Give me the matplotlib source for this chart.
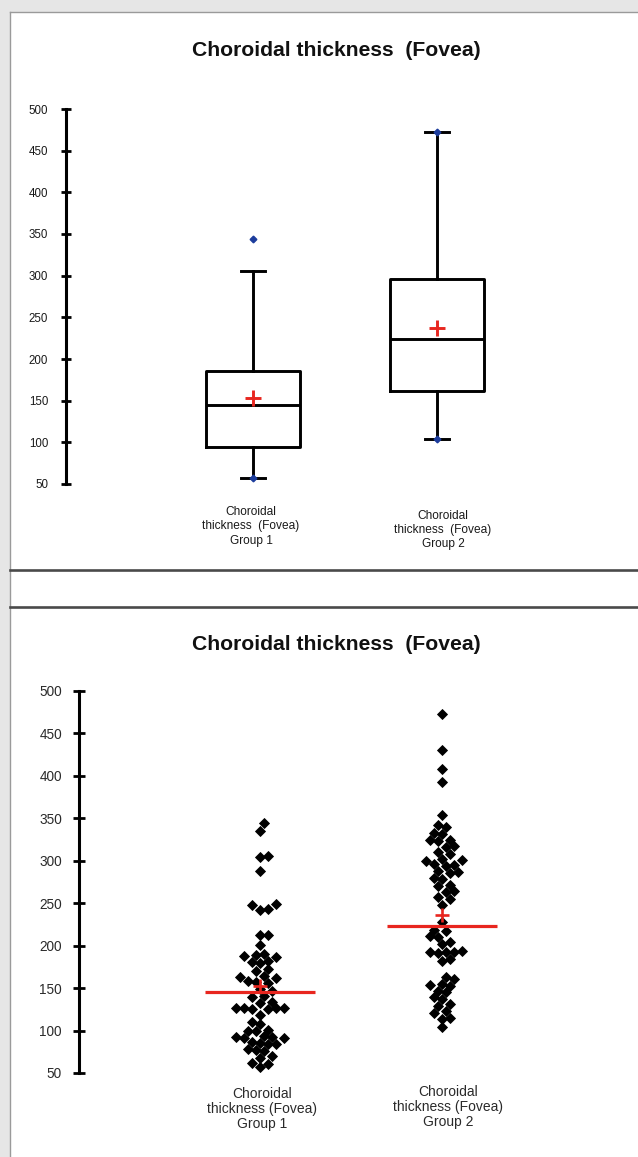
import matplotlib
matplotlib.use('Agg')
import matplotlib.pyplot as plt
import numpy as np
from matplotlib.patches import Rectangle
from matplotlib.lines import Line2D

plt.rcParams['font.family'] = ['Liberation Sans', 'DejaVu Sans']

W, H = 638, 1157

# ---------------- data ----------------
title = 'Choroidal thickness  (Fovea)'
box_labels = ['Choroidal\nthickness  (Fovea)\nGroup 1',
              'Choroidal\nthickness  (Fovea)\nGroup 2']
dot_labels = ['Choroidal\nthickness (Fovea)\nGroup 1',
              'Choroidal\nthickness (Fovea)\nGroup 2']
y_ticks = [50, 100, 150, 200, 250, 300, 350, 400, 450, 500]

box_q1 = [94, 161]
box_median = [145, 224]
box_q3 = [186, 296]
box_whislo = [57, 104]
box_whishi = [306, 472]
box_mean = [153, 237]
box_min = [57, 104]
box_max = [344, 472]

dot_median = [145, 223]
dot_mean = [152, 236]

group1 = [344, 335, 306, 305, 288, 249, 248, 243, 242, 213, 212, 201,
          190, 189, 188, 187, 182, 181, 180, 172, 170, 164, 163, 162,
          158, 157, 156, 149, 147, 141, 140, 134, 133,
          127, 127, 126, 126, 125, 125, 118, 110, 108, 101, 100, 100,
          93, 92, 92, 91, 91, 86, 85, 84, 84, 78, 77, 76, 70, 68, 62, 61, 57]
group2 = [473, 430, 408, 393, 354, 342, 340, 333, 332, 325, 324, 323,
          317, 316, 310, 308, 302, 301, 300, 296, 295, 294, 288, 287, 286,
          280, 279, 272, 270, 264, 263, 257, 255, 248, 228, 219, 217,
          211, 210, 204, 202, 194, 193, 192, 192, 191, 184, 182,
          163, 161, 155, 154, 153, 147, 145, 139, 137, 131, 129,
          123, 121, 115, 114, 104]

# ---------------- helpers ----------------
def fx(px):
    return px / W

def fy(py):
    return 1 - py / H

RED = '#e8261f'
BLUE = '#1c3c9c'

fig = plt.figure(figsize=(W / 100, H / 100), dpi=100)
fig.patch.set_facecolor('#e6e6e6')

# page background and frame lines
fig.add_artist(Rectangle((fx(10), 0), 1 - fx(10), fy(12), transform=fig.transFigure,
                         facecolor='white', edgecolor='none', zorder=0))
fig.add_artist(Line2D([fx(10), fx(10)], [0, fy(12)], transform=fig.transFigure,
                      color='#9a9a9a', lw=1.0))
fig.add_artist(Line2D([fx(10), 1], [fy(12), fy(12)], transform=fig.transFigure,
                      color='#9a9a9a', lw=1.0))
for yy in (570, 607):
    fig.add_artist(Line2D([fx(10), 1], [fy(yy), fy(yy)], transform=fig.transFigure,
                          color='#4a4a4a', lw=1.9))

# ---------------- top: box plot ----------------
ax1 = fig.add_axes([fx(66), fy(484), fx(600 - 66), (484 - 109) / H])
ax1.patch.set_alpha(0)
upx1 = 184.0
ax1.set_xlim(1 - (253 - 66) / upx1, 2 + (600 - 437) / upx1)
ax1.set_ylim(50, 500)

stats = []
for i in range(2):
    stats.append(dict(q1=box_q1[i], med=box_median[i], q3=box_q3[i],
                      whislo=box_whislo[i], whishi=box_whishi[i],
                      mean=box_mean[i], fliers=[box_min[i], box_max[i]]))
ax1.bxp(stats, positions=[1, 2], widths=94 / upx1, capwidths=24 / upx1,
        showmeans=True, showfliers=True,
        boxprops=dict(color='black', lw=2.1),
        whiskerprops=dict(color='black', lw=2.1),
        capprops=dict(color='black', lw=2.1),
        medianprops=dict(color='black', lw=2.1),
        meanprops=dict(marker='+', markersize=12, markeredgewidth=2.1,
                       markeredgecolor=RED, markerfacecolor=RED),
        flierprops=dict(marker='D', markersize=3.4, markerfacecolor=BLUE,
                        markeredgecolor=BLUE))

for s in ('top', 'right', 'bottom'):
    ax1.spines[s].set_visible(False)
ax1.spines['left'].set_linewidth(2.2)
ax1.set_yticks(y_ticks)
ax1.tick_params(axis='y', direction='inout', length=7.5, width=2.0,
                pad=9.0, labelsize=8.3, labelcolor='#1a1a1a')
ax1.set_xticks([])
for i, (dx, ypx) in enumerate([(-2, 506), (6, 510)]):
    ax1.text(i + 1 + dx / upx1, fy(ypx), box_labels[i],
             transform=matplotlib.transforms.blended_transform_factory(ax1.transData, fig.transFigure),
             ha='center', va='top', fontsize=8.6, linespacing=1.25, color='#1a1a1a')

fig.text(fx(336), fy(50), title, ha='center', va='center',
         fontsize=15.2, fontweight='bold', color='#111111')

# ---------------- bottom: dot plot ----------------
ax2 = fig.add_axes([fx(79), fy(1073), fx(600 - 79), (1073 - 691) / H])
ax2.patch.set_alpha(0)
upx2 = 182.0
ax2.set_xlim(1 - (260 - 79) / upx2, 2 + (600 - 442) / upx2)
ax2.set_ylim(50, 500)
ppy = (1073 - 691) / 450.0


def swarm(values, d):
    vals = np.sort(np.asarray(values, dtype=float))
    placed = []
    offs = []
    cands = [0.0]
    for k in range(1, 40):
        cands += [k * d / 2, -k * d / 2]
    for v in vals:
        y = v * ppy
        for c in cands:
            if all((c - px) ** 2 + (y - py) ** 2 >= (d * 0.97) ** 2 for px, py in placed):
                break
        placed.append((c, y))
        offs.append(c)
    return vals, np.array(offs)


for i, g in enumerate([group1, group2]):
    vals, offs = swarm(g, 8.0)
    ax2.plot(i + 1 + offs / upx2, vals, linestyle='none', marker='D',
             markersize=4.9, color='black', markeredgewidth=0.6, zorder=3, clip_on=False)
    ax2.hlines(dot_median[i], i + 1 - 55 / upx2, i + 1 + 55 / upx2,
               color=RED, lw=2.3, zorder=4)
    ax2.plot([i + 1], [dot_mean[i]], marker='+', markersize=10,
             markeredgewidth=1.9, color=RED, zorder=5)

for s in ('top', 'right', 'bottom'):
    ax2.spines[s].set_visible(False)
ax2.spines['left'].set_linewidth(2.2)
ax2.set_yticks(y_ticks)
ax2.tick_params(axis='y', direction='inout', length=8.5, width=2.0,
                pad=8.0, labelsize=9.8, labelcolor='#2a2a2a')
ax2.set_xticks([])
for i, (dx, ypx) in enumerate([(2, 1095), (6, 1093)]):
    ax2.text(i + 1 + dx / upx2, fy(ypx - 8), dot_labels[i],
             transform=matplotlib.transforms.blended_transform_factory(ax2.transData, fig.transFigure),
             ha='center', va='top', fontsize=10, linespacing=1.1, color='#2a2a2a')

fig.text(fx(336), fy(645), title, ha='center', va='center',
         fontsize=15.2, fontweight='bold', color='#111111')

fig.savefig('out.png', dpi=100, facecolor=fig.get_facecolor())
